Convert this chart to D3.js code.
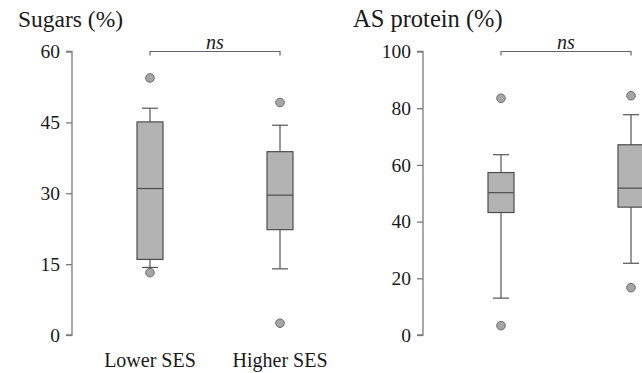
<!DOCTYPE html>
<html>
<head>
<meta charset="utf-8">
<script src="https://cdn.jsdelivr.net/npm/d3@7"></script>
</head>
<body style="margin:0;background:#fff">
<div id="chart"></div>
<script>
// frame
const FRAME_WIDTH = 642;
const FRAME_HEIGHT = 373;
const FONT = "Liberation Serif";

// data
const GROUPS = ["Lower SES", "Higher SES"];

const SUGARS_BOX = [
  {group: "Lower SES",  low: 14.3, q1: 16.0, median: 31.0, q3: 45.1, high: 48.0},
  {group: "Higher SES", low: 14.0, q1: 22.3, median: 29.6, q3: 38.8, high: 44.4}
];
const SUGARS_OUTLIERS = [
  {group: "Lower SES", value: 54.4}, {group: "Lower SES", value: 13.2},
  {group: "Higher SES", value: 49.2}, {group: "Higher SES", value: 2.5}
];
const SUGARS_TICKS = [0, 15, 30, 45, 60];

const PROTEIN_BOX = [
  {group: "Lower SES",  low: 13.0, q1: 43.2, median: 50.2, q3: 57.3, high: 63.6},
  {group: "Higher SES", low: 25.3, q1: 45.1, median: 51.8, q3: 67.1, high: 77.7}
];
const PROTEIN_OUTLIERS = [
  {group: "Lower SES", value: 83.5}, {group: "Lower SES", value: 3.3},
  {group: "Higher SES", value: 84.4}, {group: "Higher SES", value: 16.7}
];
const PROTEIN_TICKS = [0, 20, 40, 60, 80, 100];

const svg = d3.select("#chart")
  .append("svg")
    .attr("width", FRAME_WIDTH)
    .attr("height", FRAME_HEIGHT)
    .attr("font-family", FONT)
    .style("display", "block");

const TOP = 51.5, BOTTOM = 335;
const BOX_W = 26, CAP = 8;

function drawPanel(opts) {
  const y = d3.scaleLinear().domain([0, opts.max]).range([BOTTOM, TOP]);
  const x = d3.scalePoint().domain(GROUPS).range([opts.axisX + 78, opts.axisX + 208]);
  const g = svg.append("g");

  // title
  g.append("text")
    .attr("x", opts.titleX).attr("y", 27)
    .attr("font-family", FONT).attr("font-size", opts.titleSize).attr("fill", "#1a1a1a")
    .text(opts.title);

  // y axis
  const axis = g.append("g")
    .attr("transform", "translate(" + opts.axisX + ",0)")
    .call(d3.axisLeft(y).tickValues(opts.ticks).tickSize(6).tickPadding(6))
    .attr("font-family", FONT).attr("font-size", 19.5);
  axis.selectAll("path, line").attr("stroke", "#7a7a7a").attr("stroke-width", 1.3);
  axis.select(".domain").attr("d", "M-6," + y(0) + "H0V" + y(opts.max) + "H-6");
  axis.selectAll("text")
    .attr("fill", "#1a1a1a")
    .attr("font-family", FONT).attr("font-size", 19.5);

  // significance bracket
  const bx0 = x(GROUPS[0]), bx1 = x(GROUPS[1]);
  g.append("path")
    .attr("d", "M" + bx0 + "," + (TOP + 4) + "V" + TOP + "H" + bx1 + "V" + (TOP + 4))
    .attr("fill", "none").attr("stroke", "#666").attr("stroke-width", 1.2);
  g.append("text")
    .attr("x", (bx0 + bx1) / 2).attr("y", TOP - 3)
    .attr("text-anchor", "middle")
    .attr("font-family", FONT).attr("font-size", 20).attr("font-style", "italic")
    .attr("fill", "#1a1a1a")
    .text("ns");

  // whiskers
  const boxes = g.selectAll(".box").data(opts.boxes).enter().append("g");
  boxes.append("line")
    .attr("x1", d => x(d.group)).attr("x2", d => x(d.group))
    .attr("y1", d => y(d.high)).attr("y2", d => y(d.low))
    .attr("stroke", "#555").attr("stroke-width", 1.2);
  boxes.selectAll(".cap").data(d => [[d.group, d.high], [d.group, d.low]]).enter()
    .append("line")
    .attr("x1", d => x(d[0]) - CAP).attr("x2", d => x(d[0]) + CAP)
    .attr("y1", d => y(d[1])).attr("y2", d => y(d[1]))
    .attr("stroke", "#555").attr("stroke-width", 1.2);

  // boxes
  boxes.append("rect")
    .attr("x", d => x(d.group) - BOX_W / 2)
    .attr("width", BOX_W)
    .attr("y", d => y(d.q3))
    .attr("height", d => y(d.q1) - y(d.q3))
    .attr("fill", "#b3b3b3").attr("stroke", "#4d4d4d").attr("stroke-width", 1.2);
  boxes.append("line")
    .attr("x1", d => x(d.group) - BOX_W / 2).attr("x2", d => x(d.group) + BOX_W / 2)
    .attr("y1", d => y(d.median)).attr("y2", d => y(d.median))
    .attr("stroke", "#4d4d4d").attr("stroke-width", 1.2);

  // outliers
  g.selectAll(".out").data(opts.outliers).enter().append("circle")
    .attr("cx", d => x(d.group)).attr("cy", d => y(d.value))
    .attr("r", 4.3)
    .attr("fill", "#a6a6a6").attr("stroke", "#6a6a6a").attr("stroke-width", 1);

  // x labels
  if (opts.xLabels) {
    g.selectAll(".xl").data(GROUPS).enter().append("text")
      .attr("x", d => x(d)).attr("y", 367)
      .attr("text-anchor", "middle")
      .attr("font-family", FONT).attr("font-size", 20).attr("fill", "#1a1a1a")
      .text(d => d);
  }
}

drawPanel({title: "Sugars (%)", titleX: 18, titleSize: 23.5, axisX: 72, max: 60, ticks: SUGARS_TICKS,
           boxes: SUGARS_BOX, outliers: SUGARS_OUTLIERS, xLabels: true});
drawPanel({title: "AS protein (%)", titleX: 353, titleSize: 24.5, axisX: 423, max: 100, ticks: PROTEIN_TICKS,
           boxes: PROTEIN_BOX, outliers: PROTEIN_OUTLIERS, xLabels: false});
</script>
</body>
</html>
